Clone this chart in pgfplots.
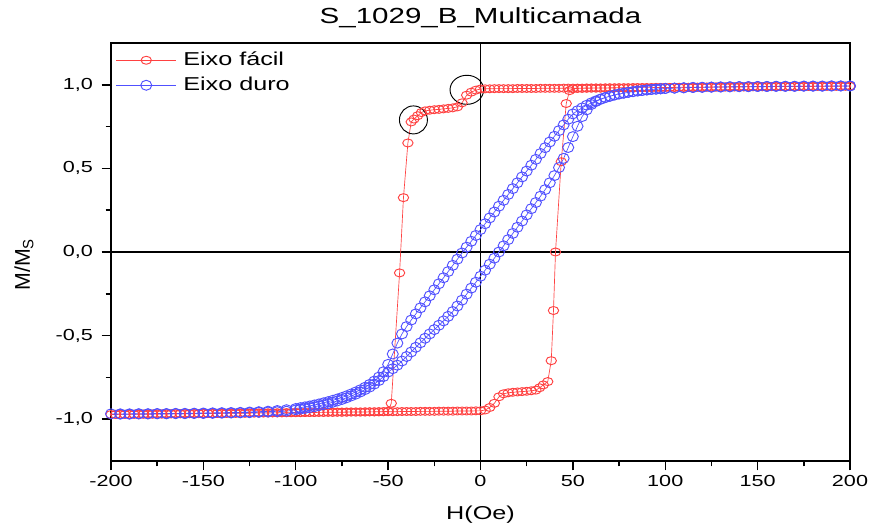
\documentclass[border=0pt]{standalone}
\usepackage{pgfplots}
\pgfplotsset{compat=1.18}
\usepackage{fontspec}
\setmainfont{Liberation Sans}[FakeStretch=1.35]
\newfontfamily\wide{Liberation Sans}[FakeStretch=1.35]
\newfontfamily\plainsans{Liberation Sans}
\definecolor{easyred}{RGB}{255,65,65}
\definecolor{hardblue}{RGB}{80,80,255}

\begin{document}
\begin{tikzpicture}
\begin{axis}[
    name=ax,
    width=554.25pt, height=313.5pt, scale only axis,
    xmin=-200, xmax=200, ymin=-1.25, ymax=1.25,
    xtick={-200,-150,...,200}, minor x tick num=1,
    ytick={-1,-0.5,0,0.5,1}, minor y tick num=1,
    xtick pos=left, ytick pos=left,
    tick align=outside,
    major tick length=7pt, minor tick length=4pt,
    axis line style={line width=1.1pt},
    tick style={black, line width=1.1pt},
    /pgf/number format/assume math mode=true,
    tick label style={font=\wide\fontsize{12}{14}\selectfont},
    y tick label style={xshift=-3pt, /pgf/number format/.cd, fixed, fixed zerofill, precision=1, use comma, /tikz/.cd},
    title={S\_1029\_B\_Multicamada},
    title style={at={(axis description cs:0.5,1.0275)}, anchor=base, inner sep=0pt,
        font=\wide\fontsize{16.4}{18}\selectfont},
    xlabel={H(Oe)},
    xlabel style={at={(axis description cs:0.5,-0.1388)}, anchor=base, inner sep=0pt,
        font=\wide\fontsize{14}{16}\selectfont},
    ylabel={M/M\textsubscript{S}},
    ylabel style={at={(axis description cs:-0.1177,0.47)}, anchor=center, inner sep=0pt,
        font=\plainsans\fontsize{16}{18}\selectfont},
    legend style={draw=none, fill=none, at={(axis description cs:0,1)}, anchor=north west,
        xshift=3.5pt, yshift=-5.75pt, inner sep=0pt, row sep=4.75pt, column sep=4pt,
        font=\wide\fontsize{14}{16}\selectfont,
        nodes={inner sep=1pt, text height=10pt, text depth=2pt}},
    legend cell align=left,
    legend image code/.code={\draw[#1, mark repeat=2, mark phase=2]
        plot coordinates {(0pt,0pt) (22.5pt,0pt) (45pt,0pt)};},
]

% zero lines
\draw[black, line width=1.3pt] (axis cs:0,-1.25) -- (axis cs:0,1.25);
\draw[black, line width=1.1pt] (axis cs:-200,0) -- (axis cs:200,0);

% Eixo facil
\addplot[easyred, line width=0.5pt, mark=o, mark size=3pt,
    mark options={solid, xscale=1.3, line width=0.7pt}]
coordinates {
(200,0.992)(197.5,0.992)(195,0.992)(192.5,0.991)(190,0.991)(187.5,0.991)(185,0.991)(182.5,0.991)
(180,0.990)(177.5,0.990)(175,0.990)(172.5,0.990)(170,0.990)(167.5,0.989)(165,0.989)(162.5,0.989)
(160,0.989)(157.5,0.989)(155,0.988)(152.5,0.988)(150,0.988)(147.5,0.988)(145,0.988)(142.5,0.987)
(140,0.987)(137.5,0.987)(135,0.987)(132.5,0.987)(130,0.986)(127.5,0.986)(125,0.986)(122.5,0.986)
(120,0.986)(117.5,0.985)(115,0.985)(112.5,0.985)(110,0.985)(107.5,0.985)(105,0.984)(102.5,0.984)
(100,0.984)(97.5,0.984)(95,0.984)(92.5,0.983)(90,0.983)(87.5,0.983)(85,0.983)(82.5,0.983)
(80,0.982)(77.5,0.982)(75,0.982)(72.5,0.982)(70,0.982)(67.5,0.981)(65,0.981)(62.5,0.981)
(60,0.981)(57.5,0.981)(55,0.980)(52.5,0.980)(50,0.980)(47.5,0.980)(45,0.980)(42.5,0.979)
(40,0.979)(37.5,0.979)(35,0.979)(32.5,0.979)(30,0.978)(27.5,0.978)(25,0.978)(22.5,0.978)
(20,0.978)(17.5,0.977)(15,0.977)(12.5,0.977)(10,0.977)(7.5,0.977)(5,0.976)(2.5,0.976)(0,0.975)
(-2.5,0.968)(-5,0.956)(-7.5,0.938)(-10,0.892)(-12.5,0.868)(-15,0.862)(-17.5,0.859)(-20,0.856)
(-22.5,0.853)(-25,0.851)(-27.5,0.848)(-30,0.844)(-32,0.834)(-34,0.815)(-36,0.795)(-37.5,0.778)
(-39.3,0.652)(-41.7,0.325)(-43.8,-0.125)(-48.3,-0.905)(-50,-0.952)
(-52.5,-0.955)(-55,-0.955)(-57.5,-0.956)(-60,-0.956)(-62.5,-0.956)(-65,-0.957)(-67.5,-0.957)
(-70,-0.957)(-72.5,-0.957)(-75,-0.958)(-77.5,-0.958)(-80,-0.958)(-82.5,-0.958)(-85,-0.959)
(-87.5,-0.959)(-90,-0.959)(-92.5,-0.960)(-95,-0.960)(-97.5,-0.960)(-100,-0.960)(-102.5,-0.961)
(-105,-0.961)(-107.5,-0.961)(-110,-0.962)(-112.5,-0.962)(-115,-0.962)(-117.5,-0.962)(-120,-0.963)
(-122.5,-0.963)(-125,-0.963)(-127.5,-0.964)(-130,-0.964)(-132.5,-0.964)(-135,-0.964)(-137.5,-0.965)
(-140,-0.965)(-142.5,-0.965)(-145,-0.966)(-147.5,-0.966)(-150,-0.966)(-152.5,-0.966)(-155,-0.967)
(-157.5,-0.967)(-160,-0.967)(-162.5,-0.967)(-165,-0.968)(-167.5,-0.968)(-170,-0.968)(-172.5,-0.969)
(-175,-0.969)(-177.5,-0.969)(-180,-0.969)(-182.5,-0.970)(-185,-0.970)(-187.5,-0.970)(-190,-0.971)
(-192.5,-0.971)(-195,-0.971)(-197.5,-0.971)(-200,-0.972)
(-197.5,-0.972)(-195,-0.971)(-192.5,-0.971)(-190,-0.971)(-187.5,-0.971)(-185,-0.970)(-182.5,-0.970)
(-180,-0.970)(-177.5,-0.970)(-175,-0.969)(-172.5,-0.969)(-170,-0.969)(-167.5,-0.968)(-165,-0.968)
(-162.5,-0.968)(-160,-0.968)(-157.5,-0.967)(-155,-0.967)(-152.5,-0.967)(-150,-0.966)(-147.5,-0.966)
(-145,-0.966)(-142.5,-0.966)(-140,-0.965)(-137.5,-0.965)(-135,-0.965)(-132.5,-0.965)(-130,-0.964)
(-127.5,-0.964)(-125,-0.964)(-122.5,-0.963)(-120,-0.963)(-117.5,-0.963)(-115,-0.963)(-112.5,-0.962)
(-110,-0.962)(-107.5,-0.962)(-105,-0.961)(-102.5,-0.961)(-100,-0.961)(-97.5,-0.961)(-95,-0.960)
(-92.5,-0.960)(-90,-0.960)(-87.5,-0.959)(-85,-0.959)(-82.5,-0.959)(-80,-0.959)(-77.5,-0.958)
(-75,-0.958)(-72.5,-0.958)(-70,-0.957)(-67.5,-0.957)(-65,-0.957)(-62.5,-0.957)(-60,-0.956)
(-57.5,-0.956)(-55,-0.956)(-52.5,-0.955)(-50,-0.955)(-47.5,-0.955)(-45,-0.955)(-42.5,-0.954)
(-40,-0.954)(-37.5,-0.954)(-35,-0.954)(-32.5,-0.953)(-30,-0.953)(-27.5,-0.953)(-25,-0.953)
(-22.5,-0.952)(-20,-0.952)(-17.5,-0.952)(-15,-0.952)(-12.5,-0.951)(-10,-0.951)(-7.5,-0.951)
(-5,-0.951)(-2.5,-0.950)(0,-0.950)
(2.5,-0.945)(5,-0.930)(7.5,-0.905)(10,-0.866)(12.5,-0.848)(15,-0.842)(17.5,-0.839)(20,-0.837)
(22.5,-0.835)(25,-0.833)(27.5,-0.830)(30,-0.826)(32,-0.812)(34,-0.795)(36.4,-0.775)
(38.3,-0.650)(39.5,-0.350)(40.6,0.000)(43.7,0.540)(46.4,0.888)(48.2,0.965)(50,0.976)
(52.5,0.978)(55,0.979)(57.5,0.979)(60,0.980)(62.5,0.980)(65,0.980)(67.5,0.981)(70,0.981)
(72.5,0.981)(75,0.982)(77.5,0.982)(80,0.982)(82.5,0.982)(85,0.983)(87.5,0.983)(90,0.983)
(92.5,0.983)(95,0.984)(97.5,0.984)(100,0.984)(102.5,0.984)(105,0.985)(107.5,0.985)(110,0.985)
(112.5,0.985)(115,0.986)(117.5,0.986)(120,0.986)(122.5,0.986)(125,0.987)(127.5,0.987)(130,0.987)
(132.5,0.987)(135,0.988)(137.5,0.988)(140,0.988)(142.5,0.988)(145,0.989)(147.5,0.989)(150,0.989)
(152.5,0.989)(155,0.989)(157.5,0.990)(160,0.990)(162.5,0.990)(165,0.990)(167.5,0.990)(170,0.990)
(172.5,0.991)(175,0.991)(177.5,0.991)(180,0.991)(182.5,0.991)(185,0.991)(187.5,0.992)(190,0.992)
(192.5,0.992)(195,0.992)(197.5,0.992)(200,0.992)
};
\addlegendentry{Eixo fácil}

% Eixo duro
\addplot[hardblue, line width=0.5pt, mark=o, mark size=3.75pt,
    mark options={solid, xscale=1.1, line width=0.7pt}]
coordinates {
(200,0.993)(195,0.993)(190,0.993)(185,0.992)(180,0.992)(175,0.992)(170,0.991)(165,0.991)
(160,0.991)(155,0.990)(150,0.990)(145,0.989)(140,0.989)(135,0.988)(130,0.987)(125,0.986)
(120,0.985)(115,0.984)(110,0.982)(105,0.980)(100,0.978)
(97.5,0.976)(95,0.974)(92.5,0.972)(90,0.969)(87.5,0.966)(85,0.963)(82.5,0.959)(80,0.955)
(77.5,0.950)(75,0.945)(72.5,0.939)(70,0.932)(67.5,0.924)(65,0.915)(62.5,0.904)(60,0.892)
(57.5,0.878)(55,0.862)(52.5,0.845)(50,0.826)(47.5,0.794)(45,0.760)(42.5,0.726)(40,0.692)
(37.5,0.658)(35,0.624)(32.5,0.589)(30,0.554)(27.5,0.519)(25,0.484)(22.5,0.449)(20,0.414)
(17.5,0.379)(15,0.344)(12.5,0.309)(10,0.274)(7.5,0.239)(5,0.204)(2.5,0.169)(0,0.134)
(-2.5,0.099)(-5,0.064)(-7.5,0.029)(-10,-0.006)(-12.5,-0.043)(-15,-0.080)(-17.5,-0.117)
(-20,-0.154)(-22.5,-0.190)(-25,-0.226)(-27.5,-0.262)(-30,-0.298)(-32.5,-0.334)(-35,-0.370)
(-37.5,-0.407)(-40,-0.446)(-42.5,-0.490)(-45,-0.545)(-47.5,-0.610)(-50,-0.672)(-52.5,-0.716)
(-55,-0.748)(-57.5,-0.772)(-60,-0.792)(-62.5,-0.809)(-65,-0.824)(-67.5,-0.837)(-70,-0.849)
(-72.5,-0.860)(-75,-0.870)(-77.5,-0.879)(-80,-0.887)(-82.5,-0.895)(-85,-0.902)(-87.5,-0.909)
(-90,-0.915)(-92.5,-0.921)(-95,-0.926)(-97.5,-0.931)
(-100,-0.936)(-105,-0.943)(-110,-0.948)(-115,-0.952)(-120,-0.955)(-125,-0.957)(-130,-0.959)
(-135,-0.960)(-140,-0.961)(-145,-0.962)(-150,-0.963)(-155,-0.964)(-160,-0.965)(-165,-0.965)
(-170,-0.966)(-175,-0.966)(-180,-0.967)(-185,-0.967)(-190,-0.968)(-195,-0.968)(-200,-0.968)
(-195,-0.970)(-190,-0.970)(-185,-0.969)(-180,-0.969)(-175,-0.968)(-170,-0.968)(-165,-0.967)
(-160,-0.967)(-155,-0.966)(-150,-0.966)(-145,-0.965)(-140,-0.964)(-135,-0.963)(-130,-0.962)
(-125,-0.961)(-120,-0.959)(-115,-0.957)(-110,-0.955)(-105,-0.952)(-100,-0.944)
(-97.5,-0.940)(-95,-0.936)(-92.5,-0.931)(-90,-0.926)(-87.5,-0.920)(-85,-0.914)(-82.5,-0.907)
(-80,-0.899)(-77.5,-0.891)(-75,-0.882)(-72.5,-0.872)(-70,-0.861)(-67.5,-0.850)(-65,-0.837)
(-62.5,-0.823)(-60,-0.808)(-57.5,-0.790)(-55,-0.769)(-52.5,-0.745)(-50,-0.718)(-47.5,-0.698)
(-45,-0.677)(-42.5,-0.652)(-40,-0.625)(-37.5,-0.598)(-35,-0.570)(-32.5,-0.543)(-30,-0.516)
(-27.5,-0.490)(-25,-0.464)(-22.5,-0.438)(-20,-0.412)(-17.5,-0.385)(-15,-0.356)(-12.5,-0.323)
(-10,-0.288)(-7.5,-0.252)(-5,-0.216)(-2.5,-0.181)(0,-0.145)(2.5,-0.109)(5,-0.073)(7.5,-0.037)
(10,0.000)(12.5,0.037)(15,0.074)(17.5,0.111)(20,0.148)(22.5,0.185)(25,0.222)(27.5,0.259)
(30,0.296)(32.5,0.334)(35,0.373)(37.5,0.414)(40,0.457)(42.5,0.505)(45,0.560)(47.5,0.625)
(50,0.690)(52.5,0.752)(55,0.810)(57.5,0.850)(60,0.882)(62.5,0.900)(65,0.913)(67.5,0.923)
(70,0.931)(72.5,0.939)(75,0.945)(77.5,0.950)(80,0.955)(82.5,0.959)(85,0.963)(87.5,0.966)
(90,0.969)(92.5,0.972)(95,0.974)(97.5,0.976)
(100,0.978)(105,0.980)(110,0.982)(115,0.984)(120,0.985)(125,0.986)(130,0.987)(135,0.988)
(140,0.989)(145,0.989)(150,0.990)(155,0.990)(160,0.991)(165,0.991)(170,0.991)(175,0.992)
(180,0.992)(185,0.992)(190,0.993)(195,0.993)(200,0.993)
};
\addlegendentry{Eixo duro}

% marked regions
\draw[black, line width=0.7pt] (axis cs:-36.3,0.79) ellipse [x radius=10.5pt, y radius=10.5pt];
\draw[black, line width=0.7pt] (axis cs:-7.4,0.97) ellipse [x radius=12.6pt, y radius=10.9pt];
\end{axis}
\pgfresetboundingbox
\path ([xshift=-83.25pt, yshift=-49.5pt]ax.south west) rectangle ([xshift=15pt, yshift=32.25pt]ax.north east);
\end{tikzpicture}
\end{document}
